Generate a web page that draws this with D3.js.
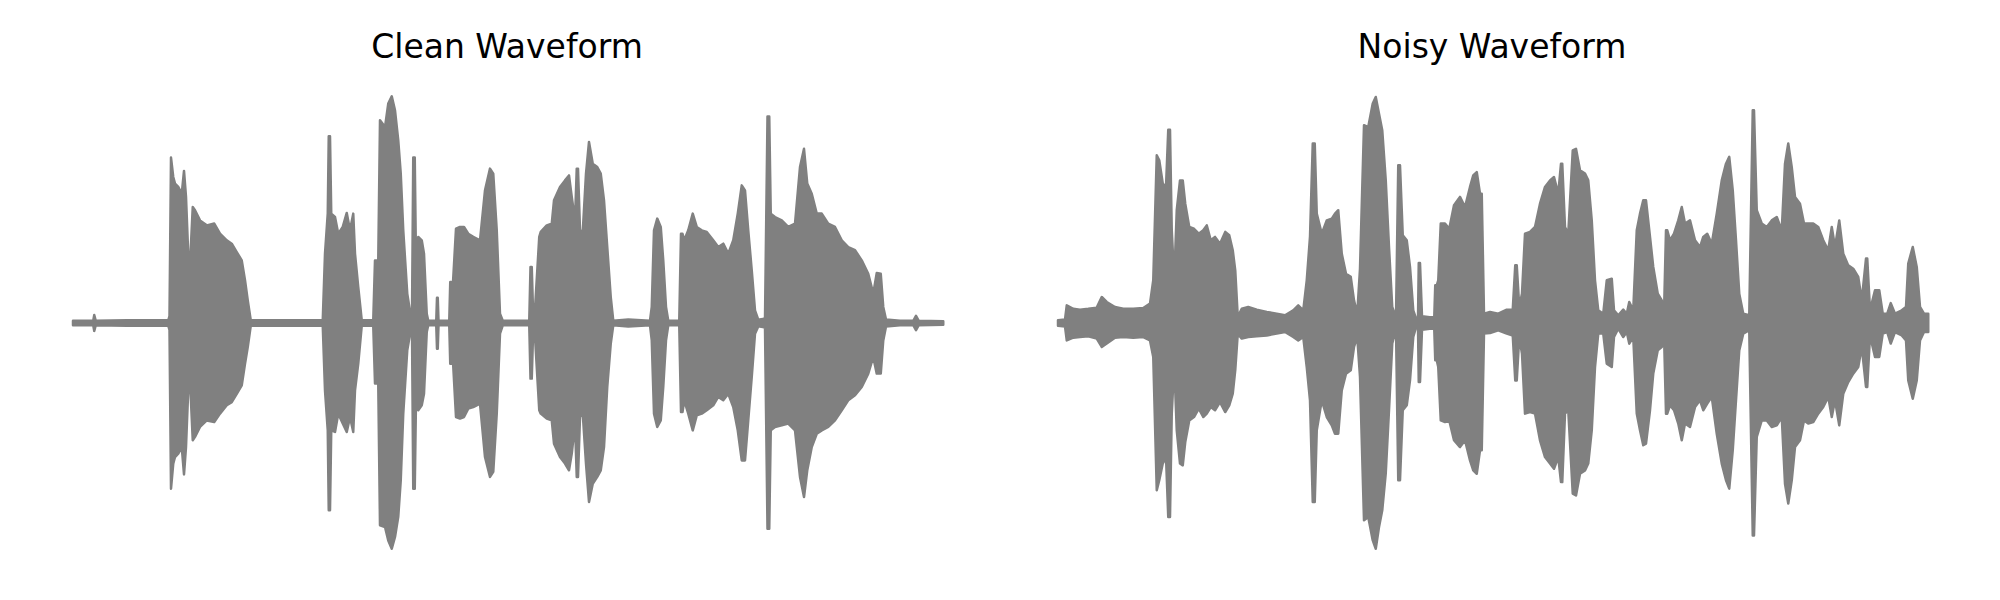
<!DOCTYPE html>
<html><head><meta charset="utf-8">
<script src="https://cdn.jsdelivr.net/npm/d3@7"></script>
<style>body{margin:0;background:#fff} svg{display:block}</style>
</head><body><svg id="chart" width="2000" height="600"></svg>
<script>
const titles = ["Clean Waveform", "Noisy Waveform"];
const duration = 3.484; // seconds

// envelope samples: [time (s), max amplitude, min amplitude]
const cleanEnvelope = [
[0.000,0.010,-0.010],[0.081,0.010,-0.010],[0.085,0.035,-0.035],[0.091,0.010,-0.010],
[0.215,0.012,-0.012],[0.381,0.012,-0.012],[0.386,0.030,-0.030],
[0.392,0.732,-0.733],[0.401,0.646,-0.622],[0.408,0.617,-0.593],[0.421,0.602,-0.578],
[0.435,0.572,-0.549],[0.444,0.673,-0.670],[0.452,0.558,-0.549],[0.465,0.189,-0.180],
[0.479,0.513,-0.519],[0.488,0.499,-0.504],[0.508,0.454,-0.460],[0.535,0.432,-0.431],
[0.565,0.440,-0.438],[0.588,0.395,-0.401],[0.615,0.366,-0.364],[0.635,0.351,-0.350],
[0.655,0.314,-0.313],[0.675,0.277,-0.276],[0.688,0.189,-0.180],[0.699,0.100,-0.106],
[0.711,0.012,-0.012],[0.855,0.012,-0.012],[0.999,0.012,-0.012],
[1.008,0.307,-0.298],[1.019,0.484,-0.475],[1.023,0.826,-0.829],[1.028,0.826,-0.829],
[1.033,0.484,-0.475],[1.048,0.469,-0.482],[1.061,0.395,-0.401],[1.079,0.425,-0.445],
[1.095,0.487,-0.482],[1.108,0.410,-0.416],[1.121,0.484,-0.482],[1.128,0.307,-0.298],
[1.141,0.159,-0.180],[1.155,0.012,-0.012],[1.201,0.012,-0.012],
[1.208,0.277,-0.268],[1.221,0.277,-0.268],[1.228,0.897,-0.895],[1.248,0.867,-0.903],
[1.261,0.971,-0.962],[1.275,1.003,-0.999],[1.288,0.941,-0.947],[1.301,0.808,-0.858],
[1.311,0.661,-0.696],[1.321,0.410,-0.401],[1.337,0.130,-0.121],[1.351,0.030,-0.030],
[1.356,0.030,-0.030],[1.361,0.732,-0.733],[1.367,0.732,-0.733],[1.372,0.277,-0.342],
[1.381,0.381,-0.386],[1.395,0.366,-0.364],[1.404,0.307,-0.313],[1.415,0.041,-0.040],
[1.421,0.010,-0.010],[1.453,0.010,-0.010],[1.456,0.112,-0.114],[1.459,0.112,-0.114],
[1.462,0.010,-0.010],[1.505,0.010,-0.010],[1.509,0.181,-0.180],[1.513,0.181,-0.180],
[1.519,0.159,-0.150],[1.532,0.417,-0.416],[1.548,0.425,-0.423],[1.564,0.425,-0.416],
[1.581,0.395,-0.379],[1.601,0.381,-0.372],[1.628,0.366,-0.357],[1.648,0.587,-0.593],
[1.668,0.683,-0.681],[1.681,0.661,-0.659],[1.695,0.410,-0.401],[1.708,0.041,-0.047],
[1.719,0.010,-0.010],[1.775,0.010,-0.010],[1.825,0.010,-0.010],
[1.830,0.248,-0.246],[1.835,0.248,-0.246],[1.841,0.020,-0.020],[1.848,0.060,-0.060],
[1.865,0.381,-0.386],[1.871,0.403,-0.401],[1.895,0.432,-0.423],[1.915,0.440,-0.431],
[1.924,0.543,-0.534],[1.948,0.602,-0.593],[1.968,0.631,-0.622],[1.984,0.653,-0.652],
[1.995,0.558,-0.578],[2.008,0.454,-0.445],[2.015,0.683,-0.681],[2.020,0.683,-0.681],
[2.028,0.410,-0.416],[2.039,0.403,-0.401],[2.052,0.661,-0.622],[2.064,0.801,-0.792],
[2.079,0.705,-0.711],[2.097,0.690,-0.681],[2.111,0.661,-0.652],[2.124,0.543,-0.549],
[2.137,0.336,-0.283],[2.151,0.115,-0.091],[2.161,0.010,-0.010],[2.221,0.015,-0.015],
[2.308,0.010,-0.010],[2.315,0.071,-0.077],[2.324,0.410,-0.401],[2.337,0.462,-0.460],
[2.351,0.425,-0.431],[2.361,0.277,-0.283],[2.372,0.071,-0.077],[2.381,0.010,-0.010],
[2.425,0.010,-0.010],[2.432,0.395,-0.394],[2.438,0.395,-0.394],[2.445,0.366,-0.342],
[2.461,0.410,-0.401],[2.479,0.484,-0.475],[2.495,0.425,-0.409],[2.515,0.410,-0.401],
[2.535,0.403,-0.386],[2.561,0.366,-0.364],[2.581,0.336,-0.327],[2.601,0.351,-0.342],
[2.621,0.307,-0.313],[2.641,0.366,-0.372],[2.659,0.484,-0.475],[2.675,0.609,-0.608],
[2.688,0.587,-0.608],[2.701,0.410,-0.431],[2.715,0.233,-0.239],[2.728,0.056,-0.047],
[2.741,0.015,-0.015],[2.768,0.020,-0.020],[2.778,0.914,-0.910],[2.785,0.914,-0.910],
[2.791,0.484,-0.475],[2.808,0.469,-0.460],[2.835,0.454,-0.453],[2.861,0.425,-0.445],
[2.888,0.440,-0.475],[2.908,0.690,-0.681],[2.924,0.771,-0.770],[2.937,0.617,-0.652],
[2.955,0.572,-0.549],[2.975,0.484,-0.490],[2.995,0.484,-0.475],[3.021,0.440,-0.460],
[3.048,0.425,-0.431],[3.075,0.366,-0.386],[3.101,0.336,-0.342],[3.128,0.322,-0.320],
[3.155,0.277,-0.283],[3.181,0.218,-0.224],[3.201,0.130,-0.150],[3.215,0.221,-0.224],
[3.231,0.218,-0.224],[3.241,0.071,-0.077],[3.252,0.015,-0.015],[3.308,0.010,-0.010],
[3.361,0.010,-0.010],[3.372,0.032,-0.032],[3.383,0.010,-0.010],[3.481,0.008,-0.008]
];

const noisyEnvelope = [
[0.000,0.012,-0.012],[0.028,0.015,-0.015],[0.035,0.078,-0.077],[0.061,0.063,-0.065],
[0.088,0.059,-0.062],[0.121,0.063,-0.059],[0.155,0.068,-0.069],[0.175,0.115,-0.106],
[0.195,0.093,-0.091],[0.228,0.071,-0.065],[0.261,0.063,-0.062],[0.301,0.063,-0.065],
[0.341,0.066,-0.062],[0.368,0.086,-0.077],[0.381,0.189,-0.150],[0.395,0.742,-0.740],
[0.405,0.720,-0.696],[0.419,0.617,-0.622],[0.432,0.602,-0.593],[0.441,0.855,-0.858],
[0.448,0.855,-0.858],[0.455,0.410,-0.401],[0.465,0.189,-0.180],[0.475,0.499,-0.475],
[0.488,0.631,-0.622],[0.499,0.631,-0.630],[0.509,0.528,-0.527],[0.525,0.425,-0.431],
[0.544,0.417,-0.416],[0.563,0.395,-0.379],[0.581,0.410,-0.416],[0.595,0.432,-0.401],
[0.611,0.366,-0.372],[0.628,0.381,-0.386],[0.648,0.351,-0.350],[0.669,0.403,-0.394],
[0.685,0.388,-0.364],[0.699,0.322,-0.313],[0.709,0.233,-0.209],[0.719,0.027,-0.047],
[0.735,0.063,-0.069],[0.761,0.071,-0.062],[0.795,0.059,-0.059],[0.835,0.049,-0.055],
[0.875,0.041,-0.047],[0.908,0.034,-0.040],[0.941,0.056,-0.062],[0.961,0.078,-0.077],
[0.981,0.056,-0.062],[0.995,0.189,-0.195],[1.008,0.381,-0.342],[1.019,0.794,-0.792],
[1.027,0.794,-0.792],[1.035,0.484,-0.475],[1.055,0.395,-0.342],[1.075,0.454,-0.416],
[1.095,0.462,-0.453],[1.108,0.484,-0.490],[1.121,0.499,-0.490],[1.135,0.307,-0.298],
[1.152,0.218,-0.224],[1.171,0.204,-0.209],[1.184,0.100,-0.106],[1.197,0.041,-0.062],
[1.208,0.240,-0.239],[1.224,0.875,-0.873],[1.241,0.867,-0.858],[1.259,0.971,-0.962],
[1.271,1.000,-0.999],[1.284,0.926,-0.903],[1.297,0.853,-0.829],[1.311,0.631,-0.665],
[1.324,0.336,-0.386],[1.337,0.071,-0.091],[1.352,0.024,-0.025],[1.361,0.698,-0.696],
[1.368,0.698,-0.696],[1.379,0.388,-0.386],[1.395,0.366,-0.364],[1.408,0.248,-0.254],
[1.421,0.056,-0.062],[1.432,0.020,-0.020],[1.440,0.020,-0.020],[1.443,0.265,-0.261],
[1.448,0.265,-0.261],[1.456,0.030,-0.030],[1.487,0.025,-0.025],[1.505,0.025,-0.025],
[1.509,0.167,-0.165],[1.515,0.167,-0.165],[1.521,0.189,-0.195],[1.531,0.440,-0.431],
[1.548,0.440,-0.438],[1.565,0.417,-0.431],[1.584,0.521,-0.519],[1.608,0.558,-0.549],
[1.628,0.513,-0.519],[1.648,0.602,-0.608],[1.661,0.653,-0.652],[1.675,0.668,-0.667],
[1.688,0.572,-0.563],[1.695,0.572,-0.563],[1.704,0.041,-0.047],[1.728,0.049,-0.044],
[1.761,0.041,-0.032],[1.795,0.059,-0.047],[1.819,0.059,-0.055],[1.829,0.255,-0.254],
[1.835,0.255,-0.254],[1.845,0.071,-0.062],[1.856,0.130,-0.136],[1.868,0.395,-0.401],
[1.888,0.403,-0.394],[1.908,0.425,-0.401],[1.928,0.528,-0.519],[1.948,0.602,-0.593],
[1.968,0.631,-0.622],[1.984,0.646,-0.645],[2.001,0.572,-0.593],[2.012,0.705,-0.704],
[2.017,0.705,-0.704],[2.028,0.425,-0.401],[2.041,0.395,-0.386],[2.059,0.764,-0.755],
[2.072,0.771,-0.763],[2.088,0.676,-0.667],[2.108,0.661,-0.652],[2.121,0.631,-0.622],
[2.135,0.454,-0.475],[2.148,0.189,-0.195],[2.161,0.056,-0.047],[2.181,0.041,-0.047],
[2.195,0.189,-0.180],[2.215,0.196,-0.195],[2.224,0.056,-0.062],[2.241,0.034,-0.025],
[2.261,0.059,-0.062],[2.275,0.041,-0.040],[2.285,0.093,-0.091],[2.301,0.056,-0.062],
[2.315,0.410,-0.401],[2.328,0.484,-0.475],[2.341,0.543,-0.541],[2.352,0.543,-0.534],
[2.368,0.381,-0.386],[2.381,0.248,-0.224],[2.399,0.130,-0.121],[2.415,0.100,-0.106],
[2.424,0.041,-0.047],[2.432,0.410,-0.401],[2.437,0.410,-0.401],[2.448,0.366,-0.364],
[2.464,0.395,-0.386],[2.481,0.454,-0.445],[2.495,0.513,-0.519],[2.508,0.440,-0.445],
[2.528,0.454,-0.460],[2.548,0.366,-0.372],[2.568,0.336,-0.342],[2.581,0.381,-0.386],
[2.597,0.395,-0.357],[2.615,0.351,-0.327],[2.635,0.484,-0.490],[2.655,0.631,-0.622],
[2.672,0.705,-0.696],[2.685,0.735,-0.733],[2.699,0.587,-0.563],[2.712,0.366,-0.342],
[2.725,0.130,-0.121],[2.741,0.041,-0.047],[2.765,0.034,-0.032],[2.779,0.941,-0.940],
[2.784,0.941,-0.940],[2.795,0.499,-0.504],[2.815,0.440,-0.431],[2.835,0.425,-0.431],
[2.855,0.454,-0.460],[2.875,0.469,-0.453],[2.895,0.410,-0.416],[2.908,0.705,-0.711],
[2.921,0.794,-0.799],[2.935,0.690,-0.696],[2.948,0.558,-0.549],[2.968,0.528,-0.519],
[2.984,0.440,-0.431],[3.001,0.440,-0.445],[3.021,0.440,-0.438],[3.041,0.425,-0.401],
[3.061,0.366,-0.372],[3.081,0.322,-0.327],[3.095,0.425,-0.416],[3.108,0.336,-0.342],
[3.125,0.454,-0.453],[3.141,0.307,-0.313],[3.161,0.255,-0.261],[3.181,0.240,-0.224],
[3.201,0.204,-0.195],[3.215,0.100,-0.106],[3.232,0.285,-0.283],[3.237,0.285,-0.283],
[3.248,0.056,-0.055],[3.268,0.145,-0.150],[3.285,0.145,-0.150],[3.299,0.041,-0.047],
[3.317,0.041,-0.040],[3.331,0.088,-0.091],[3.348,0.041,-0.040],[3.375,0.056,-0.055],
[3.392,0.071,-0.077],[3.401,0.263,-0.254],[3.419,0.336,-0.335],[3.435,0.248,-0.254],
[3.448,0.071,-0.077],[3.464,0.041,-0.040],[3.481,0.041,-0.040]
];

const svg = d3.select("#chart");
const panels = [
  {title: titles[0], data: cleanEnvelope, x0: 73, x1: 944},
  {title: titles[1], data: noisyEnvelope, x0: 1058, x1: 1929}
];
const y = d3.scaleLinear().domain([-1, 1]).range([549, 97]);

panels.forEach(p => {
  const x = d3.scaleLinear().domain([0, duration]).range([p.x0, p.x1]);
  const area = d3.area()
    .x(d => x(d[0]))
    .y0(d => y(d[2]))
    .y1(d => y(d[1]));
  svg.append("path")
    .datum(p.data)
    .attr("d", area)
    .attr("fill", "#808080")
    .attr("stroke", "#808080")
    .attr("stroke-width", 2.5)
    .attr("stroke-linejoin", "round")
    .attr("stroke-linecap", "round");
  svg.append("text")
    .attr("x", (p.x0 + p.x1) / 2 - 1.5)
    .attr("y", 58)
    .attr("text-anchor", "middle")
    .attr("font-family", "DejaVu Sans")
    .attr("font-size", 33)
    .attr("fill", "#000")
    .text(p.title);
});
</script></body></html>
